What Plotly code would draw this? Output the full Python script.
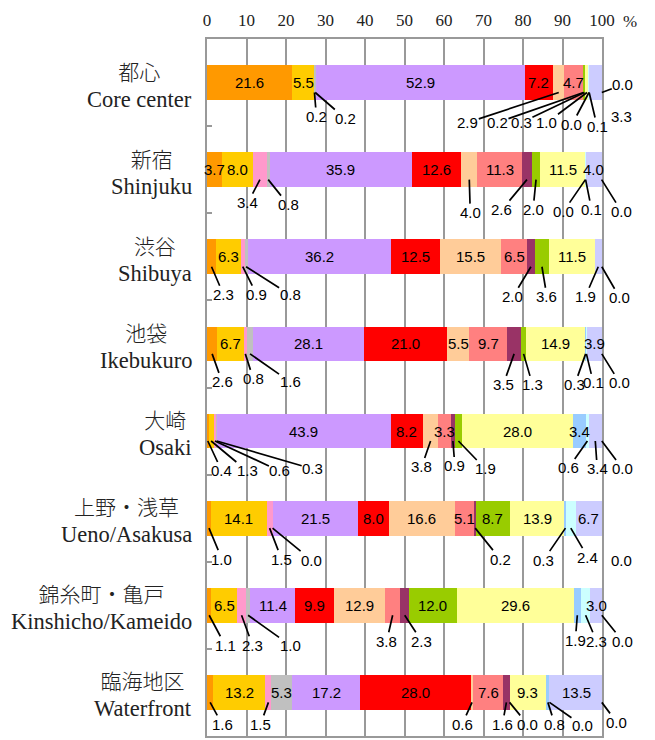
import plotly.graph_objects as go

# ---------------- data ----------------
areas_ja = ["都心", "新宿", "渋谷", "池袋", "大崎", "上野・浅草", "錦糸町・亀戸", "臨海地区"]
areas_en = ["Core center", "Shinjuku", "Shibuya", "Ikebukuro", "Osaki",
            "Ueno/Asakusa", "Kinshicho/Kameido", "Waterfront"]

s01 = [21.6, 3.7, 2.3, 2.6, 0.4, 1.0, 1.1, 1.6]
s02 = [5.5, 8.0, 6.3, 6.7, 1.3, 14.1, 6.5, 13.2]
s03 = [0.2, 3.4, 0.9, 0.8, 0.6, 1.5, 2.3, 1.5]
s04 = [0.2, 0.8, 0.8, 1.6, 0.3, 0.0, 1.0, 5.3]
s05 = [52.9, 35.9, 36.2, 28.1, 43.9, 21.5, 11.4, 17.2]
s06 = [7.2, 12.6, 12.5, 21.0, 8.2, 8.0, 9.9, 28.0]
s07 = [2.9, 4.0, 15.5, 5.5, 3.8, 16.6, 12.9, 0.6]
s08 = [4.7, 11.3, 6.5, 9.7, 3.3, 5.1, 3.8, 7.6]
s09 = [0.2, 2.6, 2.0, 3.5, 0.9, 0.2, 2.3, 1.6]
s10 = [0.3, 2.0, 3.6, 1.3, 1.9, 8.7, 12.0, 0.0]
s11 = [1.0, 11.5, 11.5, 14.9, 28.0, 13.9, 29.6, 9.3]
s12 = [0.0, 0.0, None, 0.3, 3.4, 0.3, 1.9, 0.8]
s13 = [0.1, 0.1, None, 0.1, 0.6, 2.4, 2.3, 0.0]
s14 = [3.3, 4.0, 1.9, 3.9, 3.4, 6.7, 3.0, 13.5]
s15 = [0.0, 0.0, 0.0, 0.0, 0.0, 0.0, 0.0, 0.0]

x_ticks = [0, 10, 20, 30, 40, 50, 60, 70, 80, 90, 100]

# ---------------- styling ----------------
series = [s01, s02, s03, s04, s05, s06, s07, s08, s09, s10, s11, s12, s13, s14, s15]
colors = ["#FF9900", "#FFCC00", "#FF99CC", "#C0C0C0", "#CC99FF", "#FF0000", "#FFCC99",
          "#FF8080", "#993366", "#99CC00", "#FFFF99", "#99CCFF", "#CCFFFF", "#CCCCFF", "#FFFFFF"]

# outside labels: {row: {series_index: (ax_px, ay_px, show_arrow)}}
outside = {
    0: {2: (2, 24, 1), 3: (30, 26, 1), 6: (-91, 30, 1), 8: (-86, 30, 1), 9: (-63, 30, 1),
        10: (-40, 30, 1), 11: (-17, 32, 1), 12: (8, 34, 1), 13: (26, 24, 1), 14: (21, -8, 1)},
    1: {2: (-12, 23, 1), 3: (20, 25, 1), 6: (1, 33, 1), 8: (-25, 30, 1), 9: (-3, 30, 1),
        11: (-22, 32, 1), 12: (6, 30, 1), 14: (20, 32, 1)},
    2: {0: (12, 28, 1), 2: (14, 28, 1), 3: (44, 28, 1), 8: (-18, 30, 1), 9: (5, 30, 1),
        13: (-13, 30, 1), 14: (18, 31, 1)},
    3: {0: (10, 28, 1), 2: (8, 25, 1), 3: (40, 28, 1), 8: (-11, 31, 1), 9: (9, 31, 1),
        11: (-11, 31, 1), 12: (7, 29, 1), 14: (18, 29, 1)},
    4: {0: (14, 30, 1), 1: (36, 30, 1), 2: (65, 30, 1), 3: (96, 28, 1), 6: (-9, 26, 1),
        8: (2, 25, 1), 9: (27, 28, 1), 12: (-19, 27, 1), 13: (2, 28, 1), 14: (21, 28, 1)},
    5: {0: (13, 31, 1), 2: (12, 31, 1), 3: (39, 32, 1), 8: (25, 31, 1), 11: (-22, 32, 1),
        12: (17, 29, 1), 14: (20, 32, 0)},
    6: {0: (16, 30, 1), 2: (11, 30, 1), 3: (42, 30, 1), 7: (-6, 26, 1), 8: (17, 26, 1),
        11: (-2, 25, 1), 12: (11, 26, 1), 14: (21, 26, 1)},
    7: {0: (12, 22, 1), 2: (-8, 22, 1), 6: (-10, 22, 1), 8: (-4, 22, 1), 9: (18, 22, 1),
        11: (7, 22, 1), 12: (33, 23, 1), 14: (15, 20, 1)},
}

rows = list(range(len(areas_en)))
label_font = dict(family="Liberation Sans, Arial, sans-serif", size=15, color="#000000")
grid_col = "#999999"
tip_dy = 0.114
n_rows = len(rows)

fig = go.Figure()
for k, vals in enumerate(series):
    fig.add_trace(go.Bar(
        x=vals, y=rows, orientation="h", width=0.4,
        marker=dict(color=colors[k], line=dict(width=0)),
        name=f"s{k + 1}", showlegend=False, hoverinfo="x",
    ))

annotations = []
for i in rows:
    cum = 0.0
    for k, vals in enumerate(series):
        v = vals[i]
        if v is None:
            continue
        c = min(cum + v / 2.0, 99.95)
        cum += v
        txt = f"{v:.1f}"
        if k in outside.get(i, {}):
            ax, ay, arr = outside[i][k]
            if arr:
                annotations.append(dict(
                    x=c, y=i + tip_dy, xref="x", yref="y", text=txt, font=label_font,
                    showarrow=True, arrowhead=0, arrowwidth=1.7, arrowcolor="#000000",
                    ax=ax, ay=ay, standoff=0, borderpad=0))
            else:
                annotations.append(dict(
                    x=c, y=i + tip_dy, xref="x", yref="y", text=txt, font=label_font,
                    showarrow=False, xshift=ax, yshift=-ay))
        else:
            annotations.append(dict(
                x=c, y=i, xref="x", yref="y", text=txt, font=label_font, showarrow=False))

# category labels (Japanese + English), placed in paper coordinates left of the plot
for i in rows:
    annotations.append(dict(
        x=-0.033, y=1 - (i + 0.5) / n_rows, xref="paper", yref="paper",
        xanchor="right", yanchor="middle", align="center",
        text=(f"{areas_ja[i]}<br>"
              f"<span style='font-family:Liberation Serif, Times New Roman, serif;font-size:22.5px'>"
              f"{areas_en[i]}</span>"),
        font=dict(family="Noto Sans CJK JP, sans-serif", size=21, color="#222222", weight=300),
        showarrow=False, yshift=-1))

annotations.append(dict(
    x=1.071, y=1, xref="paper", yref="paper", text="%", showarrow=False,
    xanchor="center", yanchor="middle",
    yshift=18, font=dict(family="Liberation Serif, serif", size=17, color="#222222")))

fig.update_layout(
    width=655, height=740,
    margin=dict(l=207, r=53, t=39, b=2),
    barmode="stack", bargap=0,
    paper_bgcolor="white", plot_bgcolor="white",
    annotations=annotations,
    xaxis=dict(
        side="top", range=[0, 100], tickvals=x_ticks, ticktext=[str(t) for t in x_ticks],
        tickfont=dict(family="Liberation Serif, serif", size=17, color="#222222"),
        ticklabelstandoff=4, ticks="",
        showgrid=True, gridcolor=grid_col, gridwidth=2,
        showline=True, linecolor=grid_col, linewidth=2, mirror=True, zeroline=False,
    ),
    yaxis=dict(
        range=[7.5, -0.5], tickvals=[0.5, 1.5, 2.5, 3.5, 4.5, 5.5, 6.5],
        showticklabels=False, ticks="inside", ticklen=5, tickwidth=2, tickcolor=grid_col,
        showgrid=False, showline=True, linecolor=grid_col, linewidth=2, mirror=True,
        zeroline=False,
    ),
)

fig.write_html("out.html")
